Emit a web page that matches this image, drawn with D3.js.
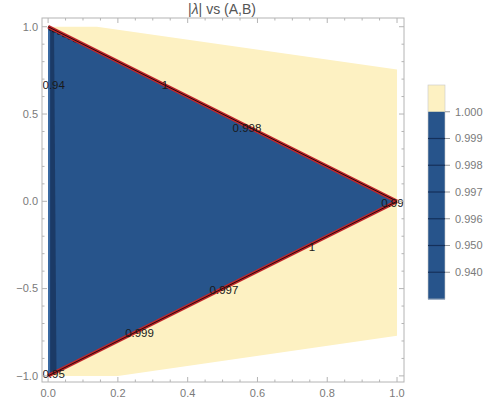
<!DOCTYPE html>
<html><head><meta charset="utf-8">
<script src="https://cdn.jsdelivr.net/npm/d3@7"></script>
<style>body{margin:0;background:#fff}svg{display:block}</style>
</head><body><svg id="c" width="487" height="404"></svg>
<script>
// ---- data ----
const title = "|λ| vs (A,B)";
const xTicks = [0, 0.2, 0.4, 0.6, 0.8, 1.0];
const yTicks = [-1.0, -0.5, 0.0, 0.5, 1.0];
// region where |λ| ≥ 1 (yellow)
const yellowRegion = [[0,1],[0.14,1.0],[1,0.755],[1,-0.77],[0.2,-1.0],[0,-1]];
// region where |λ| < 1 (blue)
const blueRegion = [[0,1],[1,0],[0,-1]];
// thin contour band near A=0
const leftLight = [[0,1],[0.006,0.99],[0.006,-0.99],[0,-1]];
const leftDark = [[0.006,0.99],[0.017,0.98],[0.024,-0.97],[0.006,-0.99]];
// jagged contour near top-left corner
const jagged = [[0.002,0.99],[0.004,0.982],[0.012,0.982],[0.014,0.972],[0.026,0.969],[0.028,0.958],[0.041,0.955],[0.043,0.944],[0.056,0.941],[0.058,0.931],[0.071,0.927],[0.073,0.917],[0.09,0.906]];
const edgeUpper = [[0,1],[1,0]];
const edgeLower = [[1,0],[0,-1]];
const contourLabels = [
  {t:"0.94", a:0.016, b:0.669},
  {t:"1", a:0.335, b:0.665},
  {t:"0.998", a:0.57, b:0.42},
  {t:"0.99", a:0.987, b:-0.01},
  {t:"1", a:0.756, b:-0.26},
  {t:"0.997", a:0.504, b:-0.506},
  {t:"0.999", a:0.262, b:-0.753},
  {t:"0.95", a:0.016, b:-0.99}
];
const legendLabels = ["1.000","0.999","0.998","0.997","0.996","0.950","0.940"];
const legendColors = ["#fdf1c2","#27548b","#27548b","#27548b","#27548b","#27548b","#27548b","#27548b"];

// ---- drawing ----
const svg = d3.select("#c");
const L=42,R=404,T=18,B=382;
const x = d3.scaleLinear().domain([-0.0175,1.02]).range([L,R]);
const y = d3.scaleLinear().domain([-1.035,1.05]).range([B,T]);
const line = d3.line().x(d=>x(d[0])).y(d=>y(d[1]));
const poly = pts => line(pts)+"Z";

const g = svg.append("g");
g.append("path").attr("d",poly(yellowRegion)).attr("fill","#fdf1c2");
g.append("path").attr("d",poly(blueRegion)).attr("fill","#27548b");
g.append("path").attr("d",poly(leftLight)).attr("fill","#3a6aa3");
g.append("path").attr("d",poly(leftDark)).attr("fill","#1b3a66");
g.append("path").attr("d",line(jagged)).attr("fill","none").attr("stroke","#111").attr("stroke-width",1.2);
[edgeUpper,edgeLower].forEach(e=>{
  g.append("path").attr("d",line(e)).attr("stroke","#c0262b").attr("stroke-width",3.6).attr("fill","none");
  g.append("path").attr("d",line(e)).attr("stroke","#2a0a0a").attr("stroke-width",1).attr("fill","none");
});
g.selectAll("text.cl").data(contourLabels).enter().append("text")
  .attr("x",d=>x(d.a)).attr("y",d=>y(d.b)).attr("dy","0.35em")
  .attr("text-anchor","middle").attr("font-family","Liberation Sans, Arial, sans-serif")
  .attr("font-size",11.5).attr("fill","#1a1a1a").text(d=>d.t);

// frame
const fc="#b4b4b4";
svg.append("rect").attr("x",L).attr("y",T).attr("width",R-L).attr("height",B-T)
  .attr("fill","none").attr("stroke",fc).attr("stroke-width",1);
const xMinor = d3.range(0,1.0001,0.05).filter(v=>Math.abs(v*5-Math.round(v*5))>1e-6);
const yMinor = d3.range(-1,1.0001,0.1).filter(v=>Math.abs(v*2-Math.round(v*2))>1e-6);
function tk(x1,y1,x2,y2){svg.append("line").attr("x1",x1).attr("y1",y1).attr("x2",x2).attr("y2",y2).attr("stroke",fc).attr("stroke-width",1);}
xTicks.forEach(v=>{tk(x(v),B,x(v),B-5);tk(x(v),T,x(v),T+5);});
xMinor.forEach(v=>{tk(x(v),B,x(v),B-2.5);tk(x(v),T,x(v),T+2.5);});
yTicks.forEach(v=>{tk(L,y(v),L+5,y(v));tk(R,y(v),R-5,y(v));});
yMinor.forEach(v=>{tk(L,y(v),L+2.5,y(v));tk(R,y(v),R-2.5,y(v));});
const lf="Liberation Sans, Arial, sans-serif", lc="#7a7a7a";
svg.selectAll("text.xt").data(xTicks).enter().append("text")
  .attr("x",d=>x(d)).attr("y",B+15).attr("text-anchor","middle")
  .attr("font-family",lf).attr("font-size",11).attr("fill",lc).text(d=>d.toFixed(1));
svg.selectAll("text.yt").data(yTicks).enter().append("text")
  .attr("x",L-4).attr("y",d=>y(d)).attr("dy","0.35em").attr("text-anchor","end")
  .attr("font-family",lf).attr("font-size",11).attr("fill",lc).text(d=>d===0?"0.0":d3.format(".1f")(d).replace("-","−"));
svg.append("text").attr("x",222).attr("y",14).attr("text-anchor","middle")
  .attr("font-family",lf).attr("font-size",14).attr("fill","#555")
  .html('|<tspan font-style="italic">λ</tspan>| vs (A,B)');

// colorbar
const cbX=428, cbW=17, cbTop=85, cbBot=299;
const cb = d3.scaleBand().domain(d3.range(legendColors.length)).range([cbTop,cbBot]);
svg.selectAll("rect.cb").data(legendColors).enter().append("rect")
  .attr("x",cbX).attr("y",(d,i)=>cb(i)).attr("width",cbW).attr("height",cb.bandwidth()+0.5)
  .attr("fill",d=>d);
svg.append("rect").attr("x",cbX).attr("y",cbTop).attr("width",cbW).attr("height",cbBot-cbTop)
  .attr("fill","none").attr("stroke","#c8c8c8").attr("stroke-width",0.6);
legendLabels.forEach((t,i)=>{
  const yy = cb(i+1);
  if(i>0) svg.append("line").attr("x1",cbX).attr("x2",cbX+cbW).attr("y1",yy).attr("y2",yy).attr("stroke","#14305a").attr("stroke-width",1.2);
  svg.append("line").attr("x1",cbX+cbW).attr("x2",cbX+cbW+5).attr("y1",yy).attr("y2",yy).attr("stroke","#999").attr("stroke-width",1);
  svg.append("text").attr("x",cbX+cbW+10).attr("y",yy).attr("dy","0.35em")
    .attr("font-family",lf).attr("font-size",11).attr("fill",lc).text(t);
});
</script></body></html>
